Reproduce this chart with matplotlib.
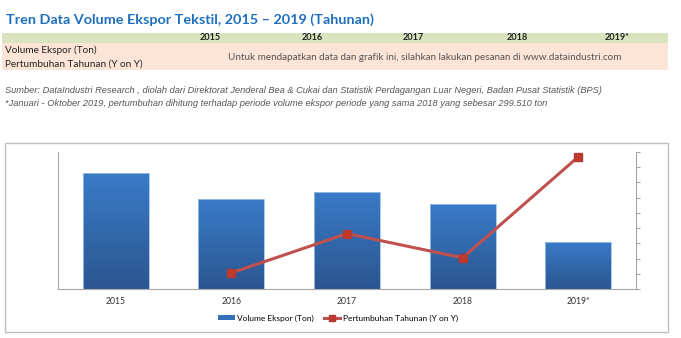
import numpy as np
import matplotlib.pyplot as plt
from matplotlib.patches import Rectangle
from matplotlib.lines import Line2D
from matplotlib.colors import LinearSegmentedColormap

# data
years = ["2015", "2016", "2017", "2018", "2019*"]
volume_ton = [508000, 394000, 425000, 372000, 206000]
growth_pct = [np.nan, -19.4, 6.4, -9.5, 56.8]

title = "Tren Data Volume Ekspor Tekstil, 2015 – 2019 (Tahunan)"
row_labels = ["Volume Ekspor (Ton)", "Pertumbuhan Tahunan (Y on Y)"]
notice = "Untuk mendapatkan data dan grafik ini, silahkan lakukan pesanan di www.dataindustri.com"
source_lines = [
    "Sumber: DataIndustri Research , diolah dari Direktorat Jenderal Bea & Cukai dan Statistik Perdagangan Luar Negeri, Badan Pusat Statistik (BPS)",
    "*Januari - Oktober 2019, pertumbuhan dihitung terhadap periode volume ekspor periode yang sama 2018 yang sebesar 299.510 ton",
]

W, H = 681, 338
fig = plt.figure(figsize=(W / 100, H / 100), dpi=100)
fig.patch.set_facecolor("white")


def fx(px):
    return px / W


def fy(py):
    return 1 - py / H


calibri = ["Lato", "DejaVu Sans"]
arial = ["Liberation Sans", "DejaVu Sans"]

# header block
fig.text(fx(6), fy(20), title, fontsize=10.35, fontweight="bold", color="#1f6fbf",
         family=calibri, va="center", ha="left")
fig.patches.append(Rectangle((fx(2), fy(43)), fx(666), 10 / H, transform=fig.transFigure,
                             facecolor="#d7e4bd", edgecolor="none", zorder=-2))
fig.patches.append(Rectangle((fx(2), fy(70)), fx(666), 27 / H, transform=fig.transFigure,
                             facecolor="#fce4d6", edgecolor="none", zorder=-2))
year_x = [221, 323, 424, 528, 630]
for xp, y in zip(year_x, years):
    fig.text(fx(xp), fy(38), y, fontsize=6.6, fontweight="bold", color="#222222",
             family=calibri, ha="right", va="center")
fig.text(fx(5), fy(50), row_labels[0], fontsize=7.2, color="#222222", family=calibri, va="center")
fig.text(fx(5), fy(64), row_labels[1], fontsize=7.2, color="#222222", family=calibri, va="center")
fig.text(fx(425), fy(57), notice, fontsize=7.15, color="#555555", family=calibri,
         ha="center", va="center")
fig.text(fx(5), fy(91), source_lines[0], fontsize=6.7, style="italic", color="#555555",
         family=arial, va="center")
fig.text(fx(5), fy(104), source_lines[1], fontsize=6.7, style="italic", color="#555555",
         family=arial, va="center")

# chart frame
fig.patches.append(Rectangle((fx(5), fy(332)), fx(663), 189 / H, transform=fig.transFigure,
                             facecolor="white", edgecolor="#bfbfbf", linewidth=1, zorder=-1))

ax = fig.add_axes([fx(58), fy(289), fx(578), 137 / H])
ax.set_facecolor("none")
x = np.arange(len(years))

# bars filled with a vertical blue gradient
grad = LinearSegmentedColormap.from_list("bar", ["#2b5690", "#3a7bc8"])
bars = ax.bar(x, volume_ton, width=0.57, color="none", edgecolor="#9dc3e6", linewidth=0.6, zorder=2)
for b in bars:
    x0, w, h = b.get_x(), b.get_width(), b.get_height()
    img = ax.imshow(np.linspace(0, 1, 100).reshape(-1, 1), cmap=grad, aspect="auto",
                    extent=[x0, x0 + w, 0, h], origin="lower", zorder=1)
    img.set_clip_path(b)
ax.set_xlim(-0.5, len(years) - 0.5)
ax.set_ylim(0, 600000)

for s in ["top", "right"]:
    ax.spines[s].set_visible(False)
for s in ["left", "bottom"]:
    ax.spines[s].set_color("#a6a6a6")
    ax.spines[s].set_linewidth(0.8)
ax.set_yticks([])
ax.set_xticks(x)
ax.set_xticklabels(years, fontsize=6.2, color="#333333", family=calibri)
ax.tick_params(axis="x", length=0, pad=6)

ax2 = ax.twinx()
ax2.set_ylim(-30, 60)
ax2.plot(x, growth_pct, color="#c0504d", linewidth=2.2, marker="s", markersize=6,
         markerfacecolor="#c0392b", markeredgecolor="#b03a36", zorder=3)
for s in ["top", "left", "bottom"]:
    ax2.spines[s].set_visible(False)
ax2.spines["right"].set_color("#a6a6a6")
ax2.spines["right"].set_linewidth(0.8)
ax2.set_yticks(np.arange(-30, 61, 10))
ax2.set_yticklabels([])
ax2.tick_params(axis="y", length=3, color="#a6a6a6", width=0.8)

handles = [
    Rectangle((0, 0), 1, 1, facecolor="#3570b8", edgecolor="none"),
    Line2D([0], [0], color="#c0504d", linewidth=2.2, marker="s", markersize=4,
           markerfacecolor="#c0392b", markeredgecolor="#b03a36"),
]
fig.legend(handles, ["Volume Ekspor (Ton)", "Pertumbuhan Tahunan (Y on Y)"],
           loc="center", bbox_to_anchor=(fx(338), fy(318)), ncol=2, frameon=False,
           prop={"family": calibri, "size": 6.0}, handlelength=2.0, handleheight=0.5,
           columnspacing=1.2, handletextpad=0.3)

fig.savefig("out.png", dpi=100)
